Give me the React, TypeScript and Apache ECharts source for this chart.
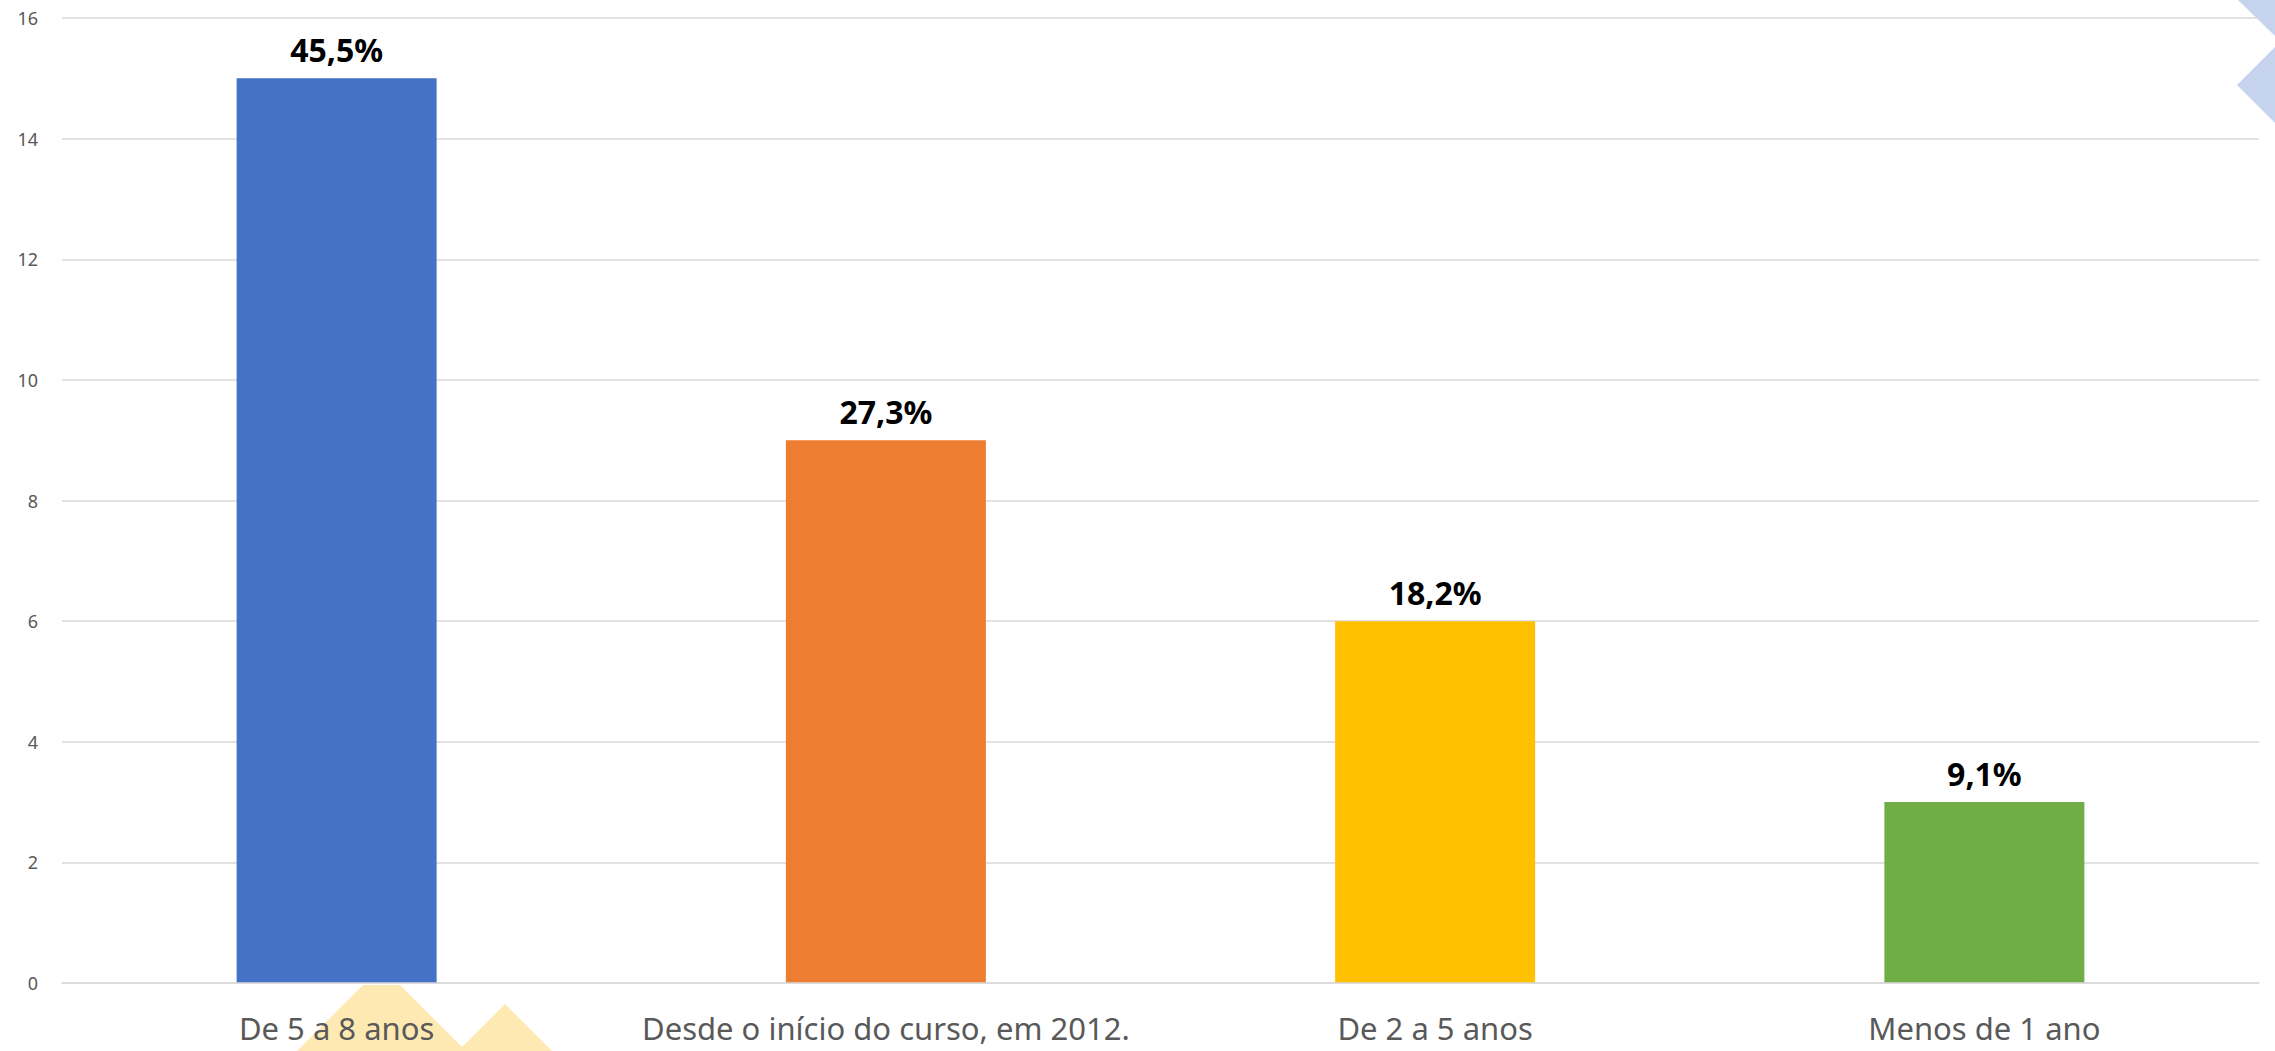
import React, { useEffect, useRef } from "react";
import * as echarts from "echarts";

const categories = [
  "De 5 a 8 anos",
  "Desde o início do curso, em 2012.",
  "De 2 a 5 anos",
  "Menos de 1 ano",
];
const counts = [15, 9, 6, 3];
const percentLabels = ["45,5%", "27,3%", "18,2%", "9,1%"];
const barColors = ["#4472C4", "#ED7D31", "#FFC000", "#70AD47"];
const yTicks = { min: 0, max: 16, interval: 2 };

export default function App() {
  const ref = useRef<HTMLDivElement>(null);
  useEffect(() => {
    document.body.style.margin = "0";
    const chart = echarts.init(ref.current!, null, { renderer: "svg" });
    const font = "'Noto Sans', 'Open Sans', sans-serif";
    chart.setOption({
      animation: false,
      backgroundColor: "#FFFFFF",
      grid: { left: 62, right: 16, top: 18, bottom: 68, containLabel: false },
      xAxis: {
        type: "category",
        data: categories,
        axisLine: { lineStyle: { color: "#D9D9D9", width: 1.5 } },
        axisTick: { show: false },
        axisLabel: {
          color: "#595959",
          fontSize: 31,
          fontFamily: font,
          margin: 29,
          interval: 0,
        },
        z: 5,
      },
      yAxis: {
        type: "value",
        min: yTicks.min,
        max: yTicks.max,
        interval: yTicks.interval,
        axisLine: { show: false },
        axisTick: { show: false },
        axisLabel: {
          color: "#595959",
          fontSize: 18,
          fontFamily: font,
          margin: 24,
        },
        splitLine: { lineStyle: { color: "#D9D9D9", width: 1.5 } },
      },
      series: [
        {
          type: "bar",
          barWidth: 200,
          data: counts.map((v, i) => ({
            value: v,
            itemStyle: { color: barColors[i] },
          })),
          label: {
            show: true,
            position: "top",
            distance: 13,
            color: "#000000",
            fontWeight: "bold",
            fontSize: 32,
            fontFamily: font,
            formatter: (p: any) => percentLabels[p.dataIndex],
          },
        },
      ],
      graphic: [
        {
          type: "polygon",
          z: -10,
          shape: { points: [[363, 985], [400, 985], [466, 1051], [297, 1051]] },
          style: { fill: "#FFE9B3" },
        },
        {
          type: "polygon",
          z: -10,
          shape: { points: [[505, 1004], [552, 1051], [458, 1051]] },
          style: { fill: "#FFE9B3" },
        },
        {
          type: "polygon",
          z: -10,
          shape: { points: [[2238, 0], [2275, 0], [2275, 36]] },
          style: { fill: "#C5D3EE" },
        },
        {
          type: "polygon",
          z: -10,
          shape: { points: [[2275, 47], [2237, 85], [2275, 123]] },
          style: { fill: "#C5D3EE" },
        },
      ],
    });
    return () => chart.dispose();
  }, []);
  return (
    <div
      ref={ref}
      style={{ position: "absolute", left: 0, top: 0, width: 2275, height: 1051 }}
    />
  );
}
